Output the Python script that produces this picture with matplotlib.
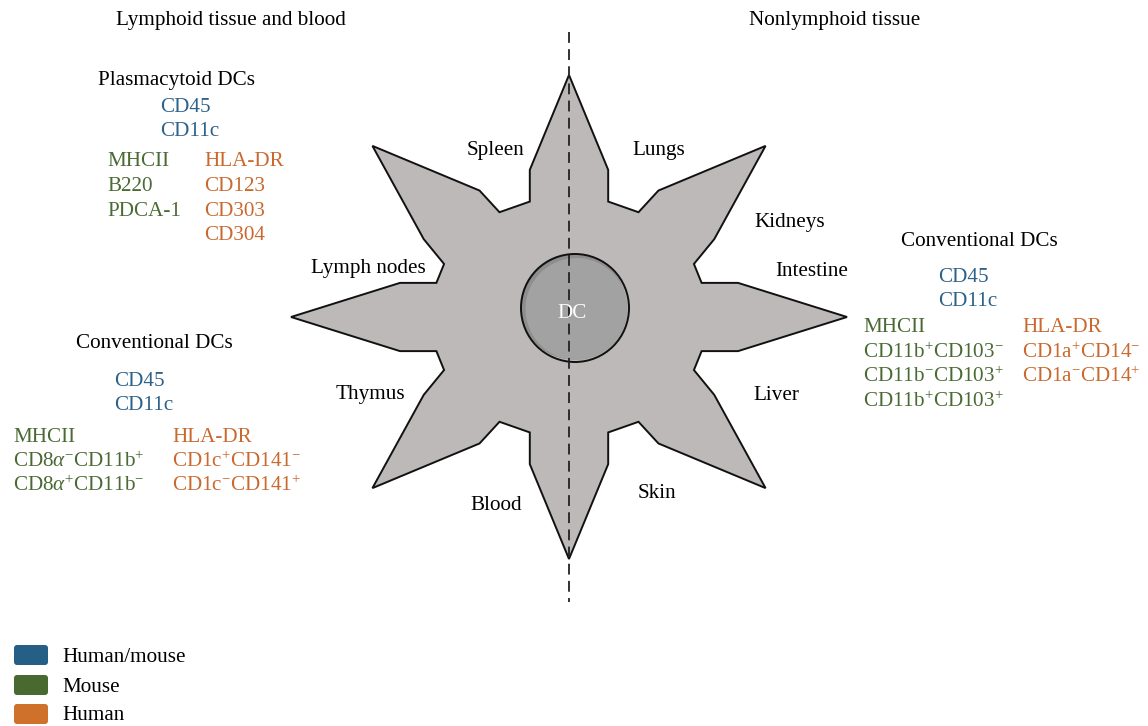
import numpy as np
import matplotlib
matplotlib.use("Agg")
import matplotlib.pyplot as plt
from matplotlib.patches import Polygon, Circle, FancyBboxPatch

plt.rcParams['font.family'] = ['Liberation Serif', 'DejaVu Serif']
plt.rcParams['mathtext.fontset'] = 'custom'
plt.rcParams['mathtext.rm'] = 'Liberation Serif'
plt.rcParams['mathtext.it'] = 'Liberation Serif:italic'
plt.rcParams['mathtext.bf'] = 'Liberation Serif:bold'

# ---------------- content ----------------
side_titles = ['Lymphoid tissue and blood', 'Nonlymphoid tissue']
organ_labels = ['Spleen', 'Lungs', 'Kidneys', 'Intestine', 'Lymph nodes',
                'Thymus', 'Liver', 'Blood', 'Skin']
center_label = 'DC'

pdc_title = 'Plasmacytoid DCs'
pdc_both = ['CD45', 'CD11c']
pdc_mouse = ['MHCII', 'B220', 'PDCA-1']
pdc_human = ['HLA-DR', 'CD123', 'CD303', 'CD304']

cdc_lymph_title = 'Conventional DCs'
cdc_lymph_both = ['CD45', 'CD11c']
cdc_lymph_mouse = ['MHCII', r'CD8$\mathit{\alpha}^{-}$CD11b$^{+}$',
                   r'CD8$\mathit{\alpha}^{+}$CD11b$^{-}$']
cdc_lymph_human = ['HLA-DR', r'CD1c$^{+}$CD141$^{-}$', r'CD1c$^{-}$CD141$^{+}$']

cdc_nonlymph_title = 'Conventional DCs'
cdc_nonlymph_both = ['CD45', 'CD11c']
cdc_nonlymph_mouse = ['MHCII', r'CD11b$^{+}$CD103$^{-}$',
                      r'CD11b$^{-}$CD103$^{+}$', r'CD11b$^{+}$CD103$^{+}$']
cdc_nonlymph_human = ['HLA-DR', r'CD1a$^{+}$CD14$^{-}$', r'CD1a$^{-}$CD14$^{+}$']

legend_labels = ['Human/mouse', 'Mouse', 'Human']
legend_colors = ['#265f86', '#486a31', '#cf712b']
text_colors = {'both': '#2c6189', 'mouse': '#4a6a34', 'human': '#c9692f'}

# ---------------- figure ----------------
W, H = 1148, 726
fig = plt.figure(figsize=(W / 100, H / 100), dpi=100)
ax = fig.add_axes([0, 0, 1, 1])
ax.set_xlim(0, W)
ax.set_ylim(H, 0)
ax.axis('off')

FS = 15.2
DY = 2  # vertical nudge for text baselines

# ---------------- star ----------------
cx, cy = 569, 317
sx, sy = 278, 242
a_out, a_in, p_card = 0.608, 0.477, 0.141
a_kink, p_diag = 0.597, 0.142
r_valley = 0.50


def to_px(theta_deg, a, q):
    t = np.radians(theta_deg)
    nx = a * np.cos(t) - q * np.sin(t)
    ny = a * np.sin(t) + q * np.cos(t)
    return (cx + nx * sx, cy - ny * sy)


def valley(theta_deg):
    t = np.radians(theta_deg)
    return (cx + r_valley * np.cos(t) * sx, cy - r_valley * np.sin(t) * sy)


pts = []
for k in range(8):
    th = k * 45
    if k % 2 == 0:
        pts += [to_px(th, a_in, -p_card), to_px(th, a_out, -p_card),
                to_px(th, 1.0, 0.0),
                to_px(th, a_out, p_card), to_px(th, a_in, p_card)]
        d = 30 if k in (2, 6) else 26
        pts.append(valley(th + d))
    else:
        pts += [to_px(th, a_kink, -p_diag), to_px(th, 1.0, 0.0),
                to_px(th, a_kink, p_diag)]
        nxt = (k + 1) * 45
        d = 30 if (k + 1) % 8 in (2, 6) else 26
        pts.append(valley(nxt - d))

ax.add_patch(Polygon(pts, closed=True, facecolor='#bcb9b8', edgecolor='#111111',
                     lw=1.4, joinstyle='miter', zorder=2))

# cell body with slight shading
ccx, ccy, cr = 575, 308, 54
ax.add_patch(Circle((ccx - 1.5, ccy - 1.5), cr - 1, facecolor='#8e8e8e',
                    edgecolor='none', zorder=3))
ax.add_patch(Circle((ccx + 1.5, ccy + 1), cr - 3, facecolor='#a2a2a2',
                    edgecolor='none', zorder=3.1))
ax.add_patch(Circle((ccx, ccy), cr, facecolor='none', edgecolor='#111111',
                    lw=1.4, zorder=3.2))
ax.text(572, 311 + DY, center_label, color='white', fontsize=FS,
        ha='center', va='center', zorder=5)

# dashed divider
ax.plot([569, 569], [32, 602], color='#222222', lw=1.3, ls=(0, (6, 3.5)),
        zorder=4)

# ---------------- labels ----------------
ax.text(231, 18 + DY, side_titles[0], fontsize=FS, ha='center', va='center')
ax.text(835, 18 + DY, side_titles[1], fontsize=FS, ha='center', va='center')

organ_pos = [(496, 148), (659, 149), (790, 220), (812, 270), (368, 267),
             (370, 393), (776, 394), (496, 504), (657, 492)]
for lab, (x, y) in zip(organ_labels, organ_pos):
    ax.text(x, y + DY, lab, fontsize=FS, ha='center', va='center', zorder=6)

LS = 24.5


def block(x, y, items, color):
    for i, s in enumerate(items):
        ax.text(x, y + DY + i * LS, s, fontsize=FS, ha='left', va='center',
                color=color)


# plasmacytoid
ax.text(176, 78 + DY, pdc_title, fontsize=FS, ha='center', va='center')
block(160, 105, pdc_both, text_colors['both'])
block(107, 160, pdc_mouse, text_colors['mouse'])
block(204, 160, pdc_human, text_colors['human'])

# conventional lymphoid
ax.text(154, 341 + DY, cdc_lymph_title, fontsize=FS, ha='center', va='center')
block(114, 379, cdc_lymph_both, text_colors['both'])
block(13, 435, cdc_lymph_mouse, text_colors['mouse'])
block(172, 435, cdc_lymph_human, text_colors['human'])

# conventional nonlymphoid
ax.text(979, 239 + DY, cdc_nonlymph_title, fontsize=FS, ha='center', va='center')
block(938, 275, cdc_nonlymph_both, text_colors['both'])
block(863, 326, cdc_nonlymph_mouse, text_colors['mouse'])
block(1022, 326, cdc_nonlymph_human, text_colors['human'])

# ---------------- legend ----------------
leg_y = [655, 685, 714]
for lab, col, y in zip(legend_labels, legend_colors, leg_y):
    ax.add_patch(FancyBboxPatch((14, y - 10), 34, 20,
                                boxstyle='round,pad=0,rounding_size=3',
                                facecolor=col, edgecolor='none'))
    ax.text(62, y + DY, lab, fontsize=FS, ha='left', va='center')

fig.savefig('out.png', dpi=100)
